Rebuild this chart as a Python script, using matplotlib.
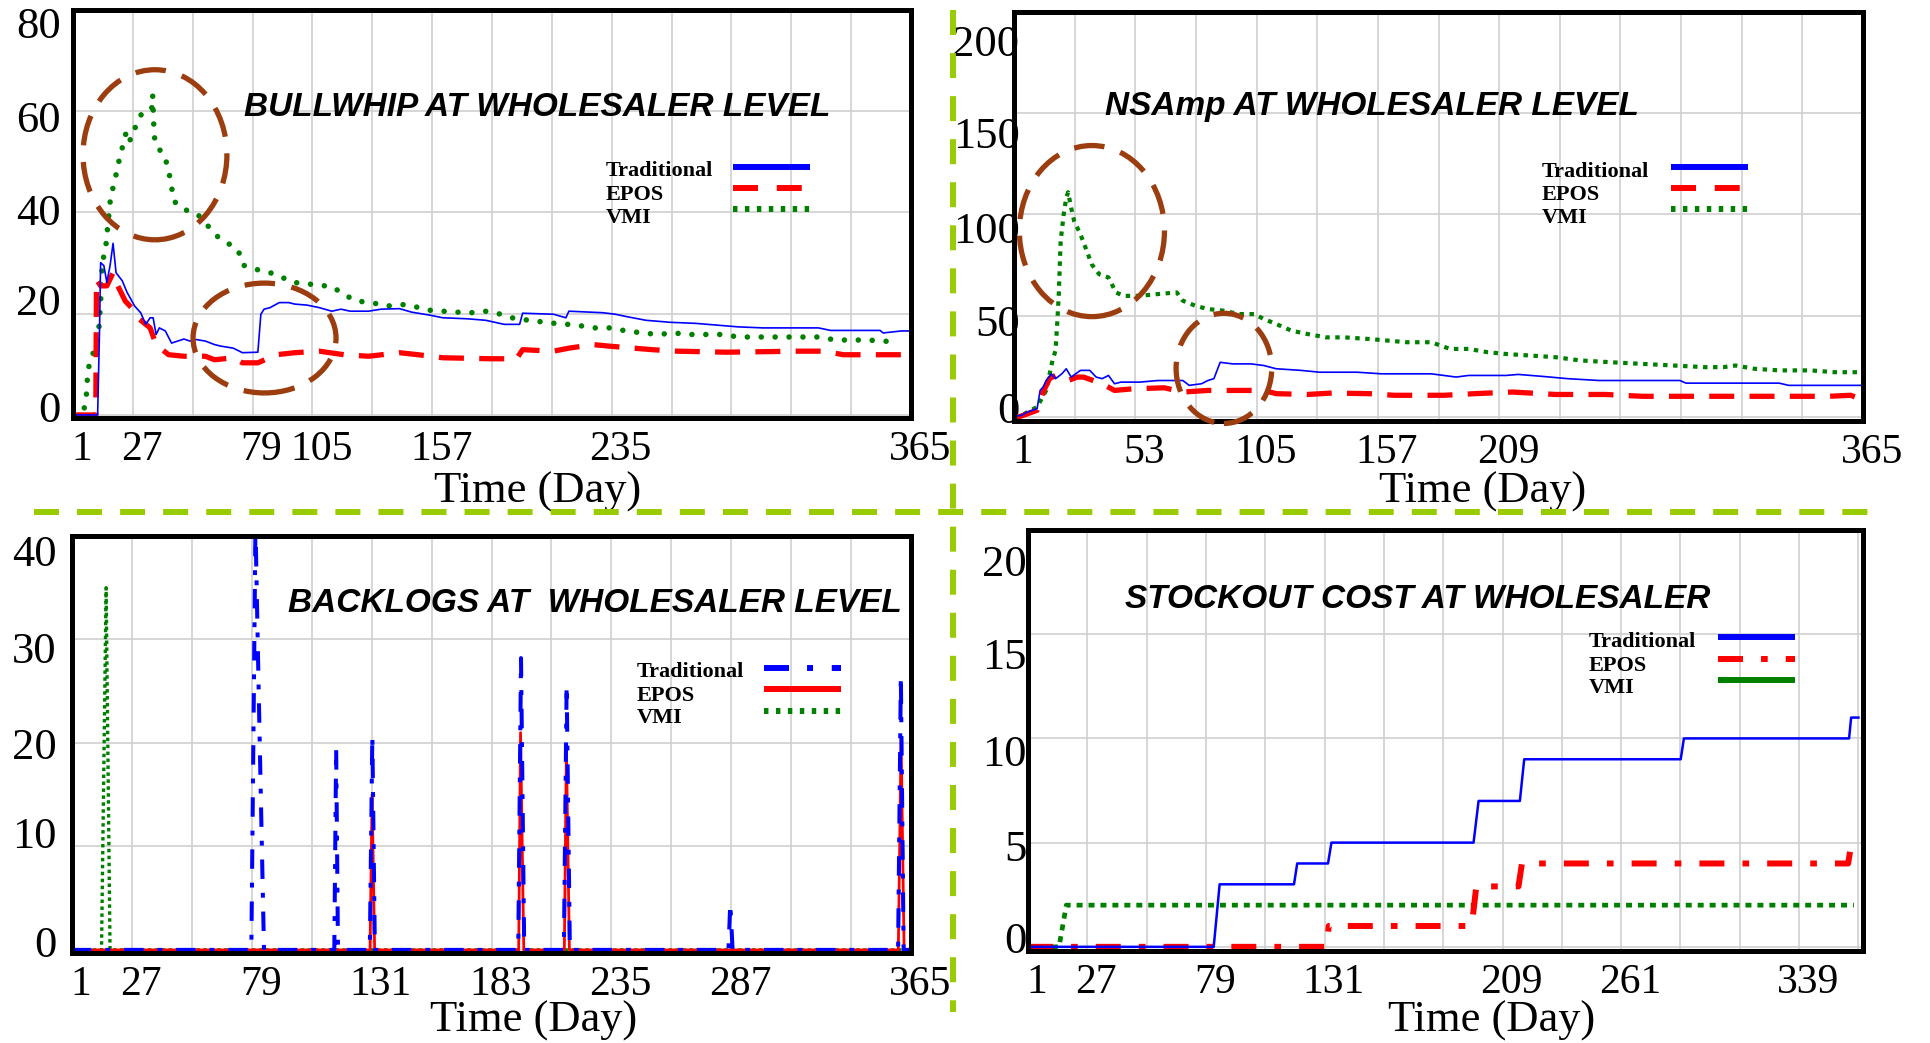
import matplotlib
matplotlib.use('Agg')
import matplotlib.pyplot as plt
from matplotlib.lines import Line2D
from matplotlib.patches import Ellipse
import matplotlib.transforms as mtransforms

# ---------------- DATA ----------------
grid_days = list(range(1, 366, 26))

# Panel 1: Bullwhip
bw_labeled = [1, 27, 79, 105, 157, 235, 365]
bw_yticks = [0, 20, 40, 60, 80]
bw_trad_x = [1, 11.7, 12.5, 13, 14.4, 15.7, 17.1, 18.4, 19.7, 22.4, 24.5, 25.6, 27.8, 30.4, 32.6, 34.5,
             35.8, 37.1, 38.5, 41.1, 43.8, 46.5, 49.2, 51.8, 54.5, 58.5, 62.5, 65.2, 70.6, 74.6, 81.3,
             82.6, 84, 86.6, 90.6, 94.7, 97.3, 102.7, 108, 113.4, 117.4, 121.4, 129.4, 134.8, 142.8,
             148.2, 156.2, 161.6, 172.3, 180.3, 188.3, 195, 196.3, 209.7, 215.1, 216.4, 231.1, 236.5,
             241.8, 249.9, 260.6, 271.3, 282, 290, 300.7, 324.8, 330.1, 351.6, 352.9, 360.9, 365]
bw_trad_y = [0, 0, 16.2, 30.1, 29.5, 26.2, 29.5, 33.9, 28.1, 26.5, 24.2, 23.3, 21.5, 20.2, 17.9, 19.2,
             19.2, 15.9, 17.2, 16.6, 14.2, 14.6, 15.0, 14.6, 14.9, 14.6, 13.9, 13.6, 13.2, 12.3, 12.4,
             19.9, 20.9, 21.2, 22.2, 22.2, 21.9, 21.7, 21.2, 20.5, 20.9, 20.5, 20.5, 20.9, 21.0,
             20.3, 19.7, 19.2, 19.0, 18.7, 17.9, 17.9, 20.1, 19.9, 19.2, 20.5, 20.2, 19.9,
             19.4, 18.7, 18.3, 18.1, 17.7, 17.4, 17.2, 17.2, 16.7, 16.7, 16.2, 16.6, 16.6]
bw_epos_x = [1, 10.9, 11.2, 13, 15.7, 18.4, 19.7, 23.7, 26.4, 29.1, 34.5, 37.1, 42.5, 49.2, 58.5, 62.5,
             70.6, 74.6, 81.3, 89.3, 97.3, 108, 118.7, 129.4, 142.8, 150.9, 161.6, 183, 193.7, 196.3,
             209.7, 216.4, 227.1, 233.8, 244.5, 252.5, 263.2, 284.7, 316.8, 327.5, 335.5, 362.3]
bw_epos_y = [0, 0, 26.8, 25.5, 25.5, 28.1, 26.2, 22.5, 21.2, 19.2, 17.2, 13.9, 11.9, 11.6, 11.6, 10.9,
             11.3, 10.3, 10.3, 11.9, 12.3, 12.6, 11.9, 11.6, 12.3, 11.9, 11.3, 11.1, 11.1, 12.9,
             12.6, 13.2, 13.9, 13.6, 13.2, 12.9, 12.6, 12.4, 12.6, 12.6, 11.9, 11.9]
bw_vmi_x = [1, 5.8, 6.9, 7.3, 8.3, 11.2, 12.2, 12.7, 13.2, 13.7, 15.2, 15.9, 17.3, 19.2, 20.5, 22.4,
            24.3, 25.9, 28.3, 31, 33.5, 35.2, 35.6, 36.1, 36.6, 37.9, 40.6, 42.5, 43.8, 44.6, 46.5,
            50.5, 55, 59.3, 63.9, 68.7, 72.7, 74.9, 80, 85.3, 90.6, 96, 101.3, 108, 113.4, 118.7,
            124.1, 130.8, 136.9, 144.2, 149.5, 155.7, 161.6, 168.2, 174.9, 180.8, 187.8, 193.7,
            200.4, 207, 213.7, 220.4, 227.1, 234.4, 241.3, 248.5, 255.2, 261.9, 268.7, 276.1, 283.3,
            290, 296.7, 303.4, 310.9, 318.1, 324.8, 332.3, 339.5, 346.2, 352.9, 359.6]
bw_vmi_y = [0, 1.1, 4.3, 7.6, 10.8, 13.6, 16.9, 20.2, 24, 30, 33, 36.4, 42.9, 46.4, 49.3, 52.8,
            56.2, 54.3, 57.1, 59.7, 60.3, 60.5, 63.2, 57.1, 53.8, 52.7, 51.5, 48.3, 45.2, 42.5, 41.4,
            40.4, 39.7, 37.5, 35.2, 33.8, 32.6, 29.6, 28.8, 28.3, 27.5, 26.2, 26.0, 25.6, 25.4, 23.8,
            22.5, 22.2, 21.5, 21.8, 21.4, 20.7, 20.5, 20.3, 20.2, 20.5, 19.8, 18.9,
            18.7, 18.2, 18.0, 17.7, 17.2, 17.2, 16.6, 16.2, 15.9, 16.2, 15.9, 15.9, 15.9,
            15.4, 15.4, 15.4, 15.4, 15.4, 15.4, 14.8, 14.8, 14.8, 14.6, 14.4]

# Panel 2: NSAmp
ns_labeled = [1, 53, 105, 157, 209, 365]
ns_yticks = [0, 50, 100, 150, 200]
ns_trad_x = [1, 4.2, 6.9, 10.9, 12.2, 13.5, 14.8, 17, 18.8, 21.5, 23.4, 25.5, 29.5, 33.5, 36.2, 38.8,
             41.5, 44.1, 46.8, 54.8, 62.8, 68.1, 73.4, 76.1, 81.4, 84.1, 86.7, 89.4, 94.7, 102.7,
             108.1, 113.4, 124, 132, 148, 158.6, 179.9, 190.6, 195.9, 203.9, 211.9, 217.2, 227.9,
             238.5, 251.9, 270.5, 286.5, 289.1, 310.4, 329.1, 333.1, 365]
ns_trad_y = [0.3, 0.8, 2.5, 4.1, 13.1, 14.8, 18, 21.3, 18.9, 21.3, 23.8, 19.7, 23, 23, 19.7, 18.9,
             20.5, 16.4, 17.2, 17.2, 18, 18, 18, 15.6, 16.4, 18, 18.9, 27, 26.2, 26.2,
             25.4, 23.8, 23, 22.1, 22.1, 21.3, 21.3, 19.7, 20.5, 20.5, 20.5, 21, 20,
             18.9, 18, 18, 18, 16.7, 16.7, 16.7, 15.6, 15.6]
ns_epos_x = [1, 6.9, 10.9, 13.5, 16.2, 18.8, 21.5, 24.2, 28.2, 30.8, 38.8, 44.1, 52.1, 65.4, 73.4,
             84.1, 94.7, 108.1, 113.4, 126.7, 137.3, 153.3, 164, 185.3, 198.6, 214.6, 233.2, 254.5,
             270.5, 297.1, 323.7, 350.4, 359.7, 363.7]
ns_epos_y = [-0.8, 1.6, 3.3, 12.3, 18.9, 20.5, 19.7, 18, 19.7, 19.7, 16.4, 13.1, 13.9, 14.4, 12.3,
             13.1, 13.1, 13.1, 11.5, 11.1, 11.8, 11.5, 10.7, 10.7, 11.5, 12.3, 11.1, 11.1,
             10.2, 10.2, 10.2, 10.2, 10.7, 9.0]
ns_vmi_x = [1, 5.5, 10.9, 14.8, 17.5, 18.8, 19.6, 20.2, 21, 22.3, 23.4, 24.2, 25.5, 26.8, 29.5, 32.2,
            34.3, 37.5, 41.5, 44.7, 48.1, 54.8, 62.8, 70.8, 73.4, 78.8, 84.1, 90.7, 97.4, 104.1,
            108.1, 113.4, 120, 126.7, 134.7, 142.7, 153.3, 161.3, 169.3, 179.9, 187.9, 195.9, 203.9,
            211.9, 222.6, 233.2, 243.9, 257.2, 270.5, 283.8, 297.1, 305.1, 310.4, 318.4, 329.1,
            342.4, 353, 365]
ns_vmi_y = [0, 1.6, 4.9, 13.1, 27.9, 32.8, 47.5, 60.7, 86.9, 100, 108.2, 111, 103.3, 96.7, 90.2, 82,
            75.4, 70.5, 68.9, 61.5, 59.8, 59.8, 60.7, 61.5, 57.4, 54.9, 53.3, 52.5, 50.8, 50.8,
            48.4, 45.9, 42.6, 41, 39.3, 39.3, 38.5, 37.7, 36.9, 36.9, 33.6, 33.6, 32,
            31.1, 30.3, 29.5, 27.9, 27, 26.2, 25.4, 24.6, 24.6, 25.4, 23.8, 23,
            23, 22.1, 22.1]

# Panel 3: Backlogs
bl_labeled = [1, 27, 79, 131, 183, 235, 287, 365]
bl_yticks = [0, 10, 20, 30, 40]
bl_trad_x = [1, 78.8, 80.6, 82, 83, 84.3, 114.8, 115.6, 116.4, 130.2, 131.3, 132.4, 194.6, 195.8,
             197.2, 214.4, 215.6, 217.0, 285.8, 286.6, 287.6, 359.4, 360.6, 361.8, 365]
bl_trad_y = [0, 0, 41, 25, 14, 0, 0, 19.5, 0, 0, 20.7, 0, 0, 28.2, 0,
             0, 25.6, 0, 0, 4.5, 0, 0, 26.5, 0, 0]
bl_epos_x = [1, 130.3, 131.2, 132.3, 194.8, 195.6, 197.0, 214.6, 215.5, 216.8, 359.5, 360.7, 362, 365]
bl_epos_y = [0, 0, 15, 0, 0, 21, 0, 0, 19.5, 0, 0, 20.5, 0, 0]
bl_vmi_x = [1, 13.8, 15.8, 17.5, 365]
bl_vmi_y = [0, 0, 35, 0, 0]

# Panel 4: Stockout cost
so_labeled = [1, 27, 79, 131, 209, 261, 339]
so_yticks = [0, 5, 10, 15, 20]
so_trad_x = [1, 82.4, 85, 117.6, 119, 132.5, 134, 196.3, 198.5, 216.6, 218.5, 287.1, 288.5, 360.9, 361.8, 365]
so_trad_y = [0, 0, 3, 3, 4, 4, 5, 5, 7, 7, 9, 9, 10, 10, 11, 11]
so_epos_x = [1, 132, 132.8, 195.5, 197.5, 216, 217.5, 360.5, 361.8]
so_epos_y = [0, 0, 1, 1, 2.9, 2.9, 4, 4, 4.9]
so_vmi_x = [1, 14.6, 17.8, 363]
so_vmi_y = [0, 0, 2, 2]

legend_labels = ['Traditional', 'EPOS', 'VMI']

# ---------------- STYLE ----------------
plt.rcParams['lines.scale_dashes'] = False
W, H = 1930, 1043
fig = plt.figure(figsize=(W / 100, H / 100), dpi=100)
fig.patch.set_facecolor('white')

BLUE, RED, GREEN = '#0000FF', '#FF0000', '#008000'
BROWN = '#9C3D10'
SEP = '#99CC00'
SERIF = 'Liberation Serif'
SANS = 'Liberation Sans'

def fx(x):
    return x / W

def fy(y):
    return 1 - y / H

def make_axes(l, t, r, b):
    return fig.add_axes([l / W, 1 - b / H, (r - l) / W, (b - t) / H])

def style_axes(ax, xlim, ylim, yticks, labeled, ypad, ylab_shift, xlabel_x, xlabel_y):
    ax.set_xlim(*xlim)
    ax.set_ylim(*ylim)
    ax.set_xticks(grid_days)
    ax.set_xticklabels([str(d) if d in labeled else '' for d in grid_days])
    ax.set_yticks(yticks)
    ax.set_yticklabels([str(v) for v in yticks])
    ax.grid(True, color='#cfcfcf', lw=1.2)
    ax.set_axisbelow(True)
    ax.tick_params(axis='both', length=0)
    ax.tick_params(axis='x', pad=9, labelsize=30)
    ax.tick_params(axis='y', pad=ypad, labelsize=32)
    for lab in ax.get_xticklabels() + ax.get_yticklabels():
        lab.set_fontfamily(SERIF)
    off = mtransforms.ScaledTranslation(9 / 100, 0, fig.dpi_scale_trans)
    for lab in ax.get_xticklabels():
        lab.set_transform(lab.get_transform() + off)
    # the reference places its y labels slightly off their grid lines
    for lab, dy in zip(ax.get_yticklabels(), ylab_shift):
        lab.set_transform(lab.get_transform() +
                          mtransforms.ScaledTranslation(0, -dy / 100, fig.dpi_scale_trans))
    for s in ax.spines.values():
        s.set_linewidth(3.6)
        s.set_color('black')
        s.set_zorder(5)
    fig.text(fx(xlabel_x), fy(xlabel_y), 'Time (Day)', ha='center', va='baseline',
             fontsize=32, family=SERIF)

def title(x, y, s):
    fig.text(fx(x), fy(y), s, ha='left', va='center', fontsize=24, family=SANS,
             weight='bold', style='italic')

def legend(text_x, text_ys, line_x0, line_x1, line_ys, styles):
    for lab, ty in zip(legend_labels, text_ys):
        fig.text(fx(text_x), fy(ty), lab, ha='left', va='center', fontsize=16,
                 family=SERIF, weight='bold')
    for ly, st in zip(line_ys, styles):
        fig.add_artist(Line2D([fx(line_x0), fx(line_x1)], [fy(ly), fy(ly)], **st))

def ellipse(ax, cx, cy, w, h):
    e = Ellipse((cx, cy), w, h, fill=False, edgecolor=BROWN, lw=3.8,
                linestyle=(0, (22, 12)), clip_on=False, zorder=6)
    ax.add_patch(e)

# line style dicts
solid_blue_thin = dict(color=BLUE, lw=1.2)
dash_red = dict(color=RED, lw=3.8, linestyle=(0, (18, 11)), dash_capstyle='butt')
dot_green_round = dict(color=GREEN, lw=4.0, linestyle=(0, (0.01, 10)), dash_capstyle='round')
dot_green_sq = dict(color=GREEN, lw=3.0, linestyle=(0, (3.2, 4.0)), dash_capstyle='butt')

leg_solid_blue = dict(color=BLUE, lw=4.3, solid_capstyle='butt')
leg_dash_red = dict(color=RED, lw=4.3, linestyle=(0, (18, 13.5)), dash_capstyle='butt')
leg_dot_green = dict(color=GREEN, lw=4.3, linestyle=(0, (3.2, 5.4)), dash_capstyle='butt')
leg_dashdot_blue = dict(color=BLUE, lw=4.3, linestyle=(0, (18, 13, 4.3, 13.5)), dash_capstyle='butt')
leg_solid_red = dict(color=RED, lw=4.3, solid_capstyle='butt')
leg_dashdot_red = dict(color=RED, lw=4.3, linestyle=(0, (18, 13, 4.8, 13)), dash_capstyle='butt')
leg_solid_green = dict(color=GREEN, lw=4.3, solid_capstyle='butt')

# ---------------- PANEL 1 ----------------
ax1 = make_axes(73, 10, 911, 418)
style_axes(ax1, (1, 365), (-0.6, 80), bw_yticks, bw_labeled, 9,
           [-8, -14, -3, 5, 13], 538, 503)
ax1.plot(bw_vmi_x, bw_vmi_y, **dot_green_round, zorder=2)
ax1.plot(bw_epos_x, bw_epos_y, **dash_red, zorder=3)
ax1.plot(bw_trad_x, bw_trad_y, **solid_blue_thin, zorder=4)
ellipse(ax1, 36.6, 51.4, 62.5, 33.6)
ellipse(ax1, 84.2, 15.2, 62.1, 21.7)
title(244, 107, 'BULLWHIP AT WHOLESALER LEVEL')
legend(606, [171, 195, 218], 733, 810, [167, 188, 209],
       [leg_solid_blue, leg_dash_red, leg_dot_green])

# ---------------- PANEL 2 ----------------
ax2 = make_axes(1014, 12, 1863, 421)
style_axes(ax2, (1, 365), (-2, 200), ns_yticks, ns_labeled, -4,
           [-9, 5, 13, 19, 28], 1483, 503)
ax2.plot(ns_vmi_x, ns_vmi_y, **dot_green_sq, zorder=2)
ax2.plot(ns_epos_x, ns_epos_y, **dash_red, zorder=3)
ax2.plot(ns_trad_x, ns_trad_y, **solid_blue_thin, zorder=4)
ellipse(ax2, 34.4, 91.8, 62.2, 84.5)
ellipse(ax2, 91, 24, 41, 54.4)
title(1105, 107, 'NSAmp AT WHOLESALER LEVEL')
legend(1542, [172, 195, 218], 1671, 1748, [167, 188, 209],
       [leg_solid_blue, leg_dash_red, leg_dot_green])

# ---------------- PANEL 3 ----------------
ax3 = make_axes(72, 536, 911, 953)
style_axes(ax3, (1, 365), (-0.3, 40), bl_yticks, bl_labeled, 11,
           [-8, -14, 1, 8, 15], 534, 1032)
ax3.plot(bl_vmi_x, bl_vmi_y, color=GREEN, lw=2.4, linestyle=(0, (2.5, 2.5)), zorder=2)
ax3.plot(bl_epos_x, bl_epos_y, color=RED, lw=2.0, zorder=3)
ax3.plot(bl_trad_x, bl_trad_y, color=BLUE, lw=2.9, linestyle=(0, (14, 10, 3.5, 10)),
         dash_capstyle='butt', zorder=4)
title(288, 604, 'BACKLOGS AT  WHOLESALER LEVEL')
legend(637, [672, 696, 718], 764, 841, [668, 689, 711],
       [leg_dashdot_blue, leg_solid_red, leg_dot_green])

# ---------------- PANEL 4 ----------------
ax4 = make_axes(1028, 530, 1863, 951)
style_axes(ax4, (1, 367), (-0.2, 20), so_yticks, so_labeled, 1,
           [-9, 3, 12, 19, 30], 1492, 1032)
ax4.plot(so_vmi_x, so_vmi_y, color=GREEN, lw=3.4, linestyle=(0, (4.3, 4.3)),
         dash_capstyle='butt', zorder=2)
ax4.plot(so_epos_x, so_epos_y, color=RED, lw=4.3, linestyle=(0, (18, 13, 4.8, 13)),
         dash_capstyle='butt', zorder=3)
ax4.plot(so_trad_x, so_trad_y, color=BLUE, lw=1.8, zorder=4)
title(1125, 600, 'STOCKOUT COST AT WHOLESALER')
legend(1589, [642, 666, 688], 1718, 1795, [637, 659, 680],
       [leg_solid_blue, leg_dashdot_red, leg_solid_green])

# ---------------- SEPARATORS ----------------
sep_style = dict(color=SEP, lw=4.3, linestyle=(0, (18, 13)), dash_capstyle='butt', zorder=10)
fig.add_artist(Line2D([fx(34), fx(1877)], [fy(512), fy(512)], **sep_style))
fig.add_artist(Line2D([fx(953), fx(953)], [fy(10), fy(1012)], **sep_style))

fig.savefig('out.png', dpi=100, facecolor='white')
